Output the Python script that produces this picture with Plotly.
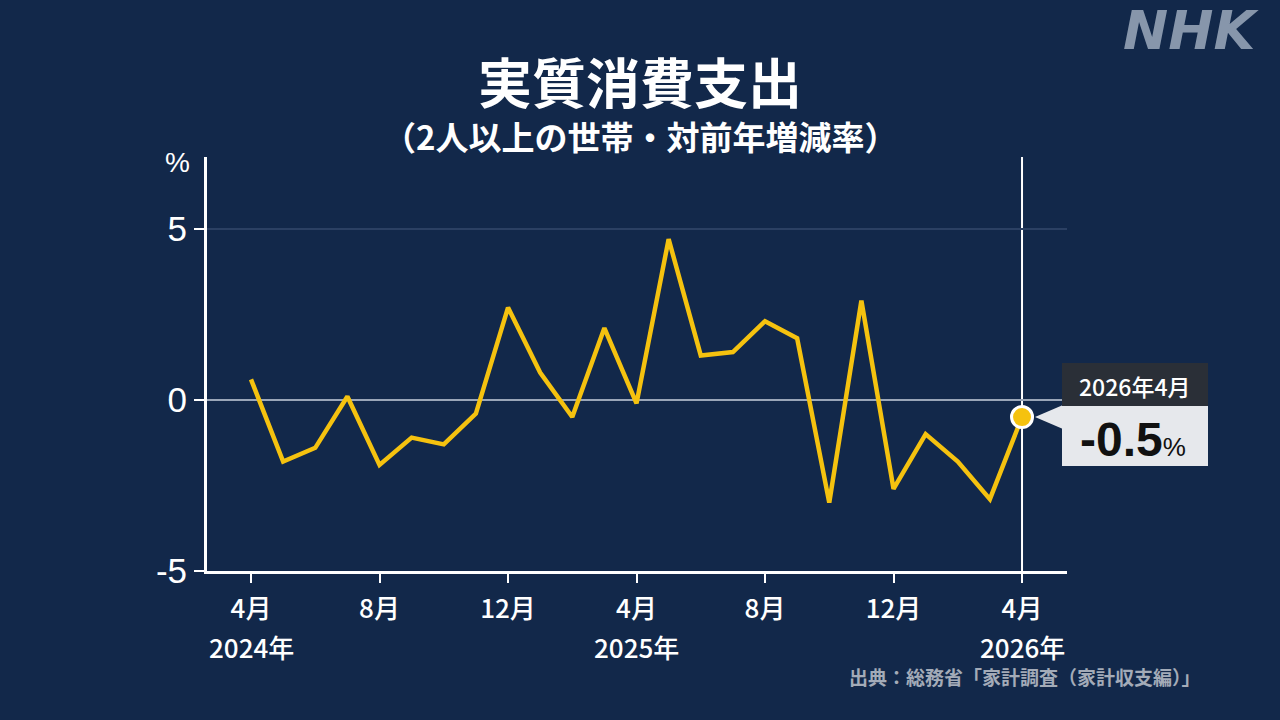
import plotly.graph_objects as go

# ---- data ----
months_idx = list(range(25))  # Apr 2024 .. Apr 2026
values = [0.6, -1.8, -1.4, 0.1, -1.9, -1.1, -1.3, -0.4, 2.7, 0.8, -0.5, 2.1, -0.1,
          4.7, 1.3, 1.4, 2.3, 1.8, -3.0, 2.9, -2.6, -1.0, -1.8, -2.9, -0.5]
tick_pos = [0, 4, 8, 12, 16, 20, 24]
tick_text = ["4月", "8月", "12月", "4月", "8月", "12月", "4月"]
year_pos = [0, 12, 24]
year_text = ["2024年", "2025年", "2026年"]
y_ticks = [-5, 0, 5]
y_tick_text = ["-5", "0", "5"]
last_label = "2026年4月"

BG = "#12284a"
YEL = "#f5c20f"
FONT = "Noto Sans CJK JP"

W, H = 1280, 720
L, R, T, B = 207, 1067, 157, 571
YMIN, YMAX = -5, 7.1


def px(x):
    return (x - L) / (R - L)


def py(y):
    return (B - y) / (B - T)


fig = go.Figure()
fig.add_trace(go.Scatter(x=months_idx, y=values, mode="lines",
                         line=dict(color=YEL, width=4.5), hoverinfo="skip"))
fig.add_trace(go.Scatter(x=[months_idx[-1]], y=[values[-1]], mode="markers",
                         marker=dict(color=YEL, size=21, line=dict(color="white", width=3)),
                         hoverinfo="skip", cliponaxis=False))

fig.update_layout(
    width=W, height=H,
    margin=dict(l=L, r=W - R, t=T, b=H - B),
    paper_bgcolor=BG, plot_bgcolor=BG,
    showlegend=False,
    font=dict(family=FONT, color="white"),
    xaxis=dict(range=[-1.37, 25.4], tickvals=tick_pos, ticktext=tick_text,
               showgrid=False, zeroline=False, showline=True, linecolor="white", linewidth=3,
               ticks="outside", ticklen=9, tickwidth=2, tickcolor="white",
               ticklabelstandoff=4,
               tickfont=dict(size=26, color="white", family=FONT + " Medium"), fixedrange=True),
    yaxis=dict(range=[YMIN, YMAX], tickvals=y_ticks, ticktext=y_tick_text,
               showgrid=True, gridcolor="#2b4063", gridwidth=2,
               zeroline=True, zerolinecolor="#9aa6b8", zerolinewidth=2,
               showline=True, linecolor="white", linewidth=3,
               ticks="outside", ticklen=10, tickwidth=2, tickcolor="white",
               tickfont=dict(size=35, color="white", family="Liberation Sans"), fixedrange=True),
)

# vertical highlight line at latest month
fig.add_shape(type="line", xref="x", yref="paper", x0=months_idx[-1], x1=months_idx[-1],
              y0=0, y1=1, line=dict(color="white", width=2), layer="below")


def ann(x, y, text, size, color="white", family=FONT, xanchor="center", xref="paper", height=None):
    fig.add_annotation(x=x, y=y, xref=xref, yref="paper", text=text, showarrow=False,
                       xanchor=xanchor, yanchor="middle", height=height,
                       font=dict(size=size, color=color, family=family))


# year labels
for xp, t in zip(year_pos, year_text):
    ann(xp, py(646), t, 26, family=FONT + " Medium", xref="x")

# callout
y_last_px = B - (values[-1] - YMIN) / (YMAX - YMIN) * (B - T)
fig.add_shape(type="path", xref="paper", yref="paper",
              path=f"M {px(1035)} {py(y_last_px)} L {px(1063)} {py(y_last_px-12)} L {px(1063)} {py(y_last_px+12)} Z",
              fillcolor="#e6e8ec", line=dict(width=0))
fig.add_shape(type="rect", xref="paper", yref="paper", x0=px(1062), x1=px(1208),
              y0=py(406), y1=py(363), fillcolor="#2a2f37", line=dict(width=0))
fig.add_shape(type="rect", xref="paper", yref="paper", x0=px(1062), x1=px(1208),
              y0=py(466), y1=py(406), fillcolor="#e6e8ec", line=dict(width=0))
ann(px(1135), py(386), last_label, 23, family=FONT + " Medium")
ann(px(1133), py(439),
    f"<b>{values[-1]}</b><span style='font-size:26px'>%</span>", 48,
    color="#111111", family="Liberation Sans")

# titles
ann(px(640), py(80), "<b>実質消費支出</b>", 54, height=62)
ann(px(640), py(136), "<b>（2人以上の世帯・対前年増減率）</b>", 33, height=40)
ann(px(177), py(163), "%", 28, family="Liberation Sans")
ann(px(1203), py(676), "<b>出典：総務省「家計調査（家計収支編）」</b>", 19,
    color="#a3abb8", xanchor="right")
ann(px(1191), py(31), "<b><i>NHK</i></b>", 54, color="#8796ab", family="DejaVu Sans")

fig.write_html("out.html", config={"displayModeBar": False})
